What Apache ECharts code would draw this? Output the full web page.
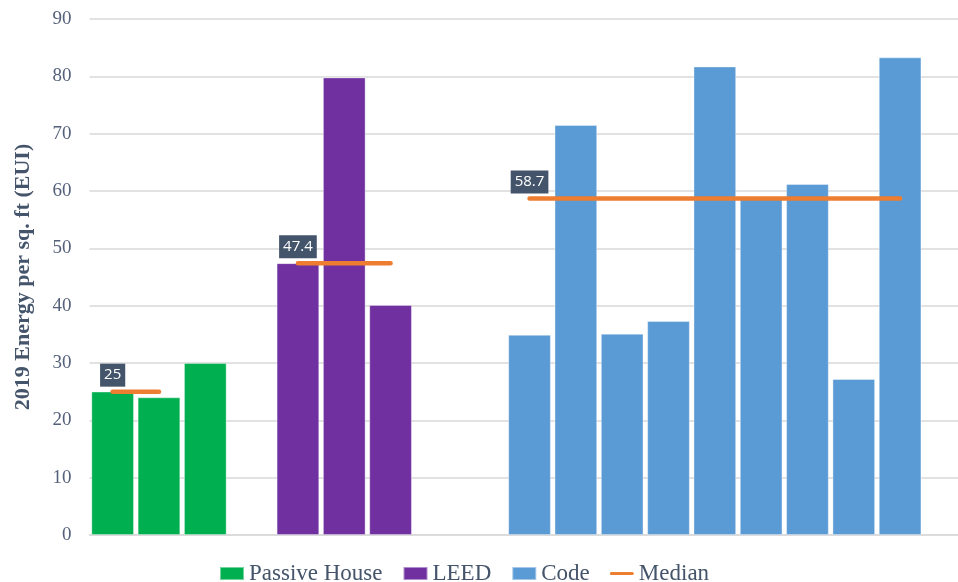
<!DOCTYPE html>
<html>
<head>
<meta charset="utf-8">
<title>2019 Energy per sq. ft</title>
<script src="https://cdn.jsdelivr.net/npm/echarts@6/dist/echarts.min.js"></script>
<style>
  html, body { margin: 0; padding: 0; background: #fff; }
  #chart { width: 958px; height: 582px; }
</style>
</head>
<body>
<div id="chart"></div>
<script>
// values (EUI)
const passiveHouse = [25, 24, 30]
const leed = [47.4, 79.8, 40.1]
const code = [34.9, 71.5, 35.1, 37.3, 81.7, 58.7, 61.2, 27.2, 83.3]
const medianValues = [25, 47.4, 58.7]
const yTicks = [0, 90, 10] // min, max, interval

// bars sit in slots of equal width; groups start at these slots
const groupStarts = [0, 4, 9]
// the passive house median only spans its first two bars
const medianSpans = [2, leed.length, code.length]
const xMax = 18.75 // plot runs a bit past the last slot, to the picture edge

const serif = '"Liberation Serif", "DejaVu Serif", serif'
const textColor = '#44546A'

const toPoints = (values, start) => values.map((v, i) => [start + i + 0.5, v])

const barBase = {
  type: 'bar',
  barWidth: 42.5,
  barGap: '-100%',
  itemStyle: { borderColor: 'rgba(255,255,255,0.45)', borderWidth: 0.8 }
}

const medianSeries = medianValues.map((m, g) => ({
  name: 'Median',
  type: 'line',
  color: '#ED7D31',
  symbol: 'circle',
  symbolSize: 0,
  z: 5,
  lineStyle: { width: 4.5, cap: 'round' },
  label: {
    position: 'top',
    distance: 5,
    fontFamily: '"Open Sans", sans-serif',
    fontSize: 15,
    color: '#fff',
    backgroundColor: '#44546A',
    padding: [3, 4],
    lineHeight: 17
  },
  data: toPoints(Array(medianSpans[g]).fill(m), groupStarts[g]).map((p, i) =>
    i === 0 ? { value: p, label: { show: true, formatter: String(m) } } : p)
}))

const chart = echarts.init(document.getElementById('chart'))

chart.setOption({
  animation: false,
  grid: { left: 89.5, top: 19, right: 0, height: 516 },
  legend: {
    left: 219,
    top: 562,
    padding: 0,
    itemWidth: 24,
    itemHeight: 13,
    itemGap: 20,
    textStyle: { fontFamily: serif, fontSize: 23, color: textColor },
    data: [
      { name: 'Passive House', icon: 'rect' },
      { name: 'LEED', icon: 'rect' },
      { name: 'Code', icon: 'rect' },
      { name: 'Median', icon: 'path://M2,0 H28 A2,2 0 0 1 28,4 H2 A2,2 0 0 1 2,0 Z' }
    ]
  },
  xAxis: {
    type: 'value',
    min: 0,
    max: xMax,
    splitLine: { show: false },
    axisTick: { show: false },
    axisLabel: { show: false },
    axisLine: { show: true, lineStyle: { color: '#d9d9d9', width: 1.5 } }
  },
  yAxis: {
    type: 'value',
    min: yTicks[0],
    max: yTicks[1],
    interval: yTicks[2],
    name: '2019 Energy per sq. ft (EUI)',
    nameLocation: 'middle',
    nameGap: 55,
    nameTextStyle: { fontFamily: serif, fontSize: 22, fontWeight: 'bold', color: textColor },
    axisLabel: { fontFamily: serif, fontSize: 19, color: '#55617a', margin: 18 },
    axisLine: { show: false },
    axisTick: { show: false },
    splitLine: { lineStyle: { color: '#d9d9d9', width: 1.5 } }
  },
  series: [
    { ...barBase, name: 'Passive House', color: '#00B050', data: toPoints(passiveHouse, groupStarts[0]) },
    { ...barBase, name: 'LEED', color: '#7030A0', data: toPoints(leed, groupStarts[1]) },
    { ...barBase, name: 'Code', color: '#5B9BD5', data: toPoints(code, groupStarts[2]) },
    ...medianSeries
  ]
})
</script>
</body>
</html>
